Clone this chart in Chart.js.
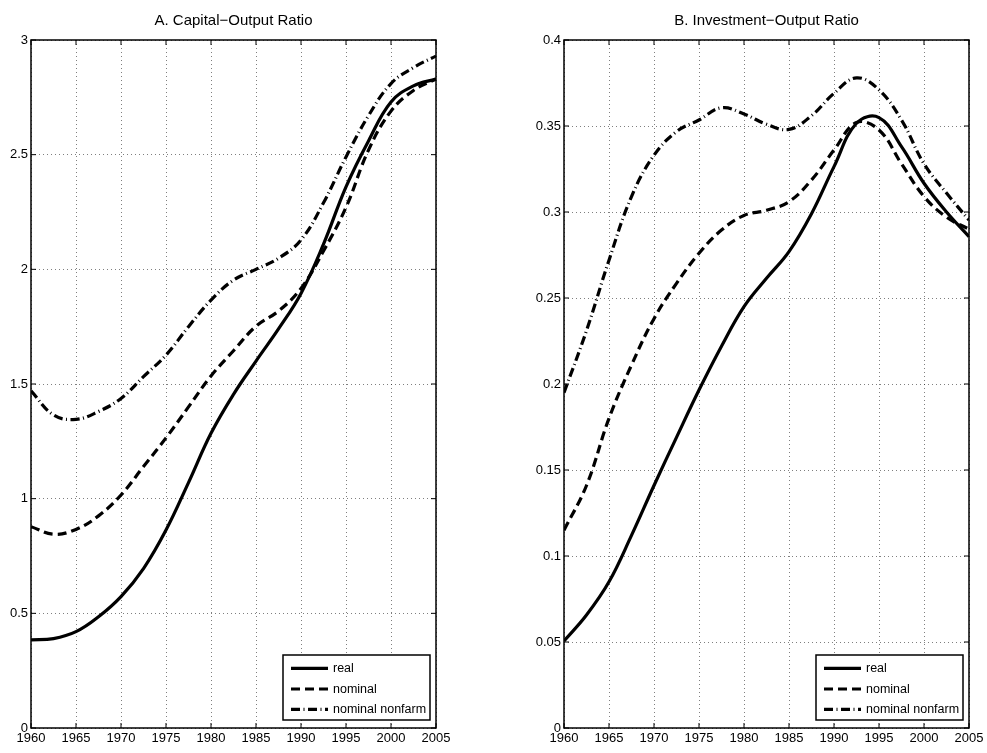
<!DOCTYPE html>
<html>
<head>
<meta charset="utf-8">
<script src="https://cdn.jsdelivr.net/npm/chart.js@4.4.4/dist/chart.umd.min.js"></script>
<style>
  html, body { margin: 0; padding: 0; background: #fff; }
  #wrap { position: relative; width: 987px; height: 753px; }
  canvas { position: absolute; top: 0; }
  #cA { left: 0; }
  #cB { left: 493px; }
</style>
</head>
<body>
<div id="wrap">
  <canvas id="cA" width="493" height="753"></canvas>
  <canvas id="cB" width="494" height="753"></canvas>
</div>
<script>
// ---- data ----
const years = [1960, 1962.5, 1965, 1967.5, 1970, 1972.5, 1975, 1977.5, 1980, 1982.5,
               1985, 1987.5, 1990, 1992.5, 1995, 1997.5, 2000, 2002.5, 2005];

// panel A: capital-output ratio
const capReal       = [0.384, 0.39, 0.42, 0.485, 0.573, 0.695, 0.863, 1.07, 1.285, 1.455,
                       1.60, 1.74, 1.895, 2.11, 2.36, 2.56, 2.73, 2.80, 2.83];
const capNominal    = [0.878, 0.845, 0.866, 0.925, 1.016, 1.14, 1.265, 1.40, 1.535, 1.645,
                       1.752, 1.818, 1.917, 2.08, 2.27, 2.52, 2.69, 2.78, 2.83];
const capNonfarm    = [1.47, 1.365, 1.346, 1.38, 1.437, 1.532, 1.626, 1.75, 1.866, 1.953,
                       2.0, 2.048, 2.128, 2.29, 2.49, 2.67, 2.81, 2.88, 2.93];

// panel B: investment-output ratio
const invReal       = [0.0506, 0.0657, 0.085, 0.112, 0.141, 0.169, 0.1965, 0.222, 0.245, 0.2615,
                       0.277, 0.299, 0.3264, 0.3516, 0.3549, 0.338, 0.3167, 0.300, 0.2857];
const invNominal    = [0.115, 0.141, 0.18, 0.211, 0.238, 0.2585, 0.276, 0.2895, 0.298, 0.301,
                       0.306, 0.3186, 0.336, 0.352, 0.3477, 0.328, 0.309, 0.297, 0.290];
const invNonfarm    = [0.195, 0.231, 0.272, 0.309, 0.333, 0.3467, 0.3535, 0.3606, 0.357, 0.351,
                       0.348, 0.356, 0.369, 0.378, 0.371, 0.3535, 0.328, 0.311, 0.2953];

const seriesNames = ['real', 'nominal', 'nominal nonfarm'];
const xTicks  = [1960, 1965, 1970, 1975, 1980, 1985, 1990, 1995, 2000, 2005];
const yTicksA = [0, 0.5, 1, 1.5, 2, 2.5, 3];
const yTicksB = [0, 0.05, 0.1, 0.15, 0.2, 0.25, 0.3, 0.35, 0.4];

const FONT = "'Liberation Sans', Arial, Helvetica, sans-serif";

// line styles, matlab-ish: solid, dashed, dash-dot
const styles = [
  { borderDash: [] },
  { borderDash: [9, 5] },
  { borderDash: [9, 3.5, 1, 3.5] }
];

function toPoints(vals) {
  return vals.map(function (v, i) { return { x: years[i], y: v }; });
}

function makeDatasets(list) {
  return list.map(function (vals, i) {
    return {
      label: seriesNames[i],
      data: toPoints(vals),
      borderColor: '#000',
      borderWidth: 3.2,
      borderDash: styles[i].borderDash,
      borderCapStyle: 'butt',
      pointRadius: 0,
      tension: 0.4,
      fill: false
    };
  });
}

// frame + inward tick marks, like a matlab box
const framePlugin = {
  id: 'frame',
  afterDraw(chart) {
    const ctx = chart.ctx, a = chart.chartArea;
    const xs = chart.scales.x, ys = chart.scales.y;
    ctx.save();
    ctx.strokeStyle = '#000';
    ctx.lineWidth = 1.5;
    ctx.setLineDash([]);
    ctx.strokeRect(a.left, a.top, a.right - a.left, a.bottom - a.top);
    ctx.lineWidth = 1;
    ctx.beginPath();
    xs.ticks.forEach(function (t) {
      const px = xs.getPixelForValue(t.value);
      ctx.moveTo(px, a.bottom); ctx.lineTo(px, a.bottom - 5);
      ctx.moveTo(px, a.top);    ctx.lineTo(px, a.top + 5);
    });
    ys.ticks.forEach(function (t) {
      const py = ys.getPixelForValue(t.value);
      ctx.moveTo(a.left, py);  ctx.lineTo(a.left + 5, py);
      ctx.moveTo(a.right, py); ctx.lineTo(a.right - 5, py);
    });
    ctx.stroke();
    ctx.restore();
  }
};

// legend box in the lower right corner of the plot area
const boxLegendPlugin = {
  id: 'boxLegend',
  afterDraw(chart) {
    const ctx = chart.ctx, a = chart.chartArea;
    const w = 147, h = 65;
    const left = a.right - 6 - w, top = a.bottom - 8 - h;
    const rows = [13.3, 34, 54.3];
    ctx.save();
    ctx.fillStyle = '#fff';
    ctx.fillRect(left, top, w, h);
    ctx.strokeStyle = '#000';
    ctx.lineWidth = 1.5;
    ctx.setLineDash([]);
    ctx.strokeRect(left, top, w, h);
    ctx.font = '12.5px ' + FONT;
    ctx.textBaseline = 'middle';
    ctx.textAlign = 'left';
    chart.data.datasets.forEach(function (ds, i) {
      const y = top + rows[i];
      ctx.beginPath();
      ctx.lineWidth = ds.borderWidth;
      ctx.lineCap = 'butt';
      ctx.setLineDash(ds.borderDash);
      ctx.moveTo(left + 8, y);
      ctx.lineTo(left + 45, y);
      ctx.stroke();
      ctx.setLineDash([]);
      ctx.fillStyle = '#000';
      ctx.fillText(ds.label, left + 50, y + 0.5);
    });
    ctx.restore();
  }
};

function makeChart(id, title, list, yTicks, yMax, yWidth, padRight) {
  return new Chart(document.getElementById(id), {
    type: 'line',
    data: { datasets: makeDatasets(list) },
    options: {
      responsive: false,
      animation: false,
      devicePixelRatio: 1,
      layout: { padding: { left: 0, right: padRight, top: 0, bottom: 0 } },
      plugins: {
        legend: { display: false },
        tooltip: { enabled: false },
        title: {
          display: true,
          text: title,
          fullSize: false,
          color: '#000',
          font: { family: FONT, size: 15, weight: 'normal' },
          padding: { top: 12, bottom: 10 }
        }
      },
      scales: {
        x: {
          type: 'linear',
          min: 1960,
          max: 2005,
          afterBuildTicks: function (s) { s.ticks = xTicks.map(function (v) { return { value: v }; }); },
          afterFit: function (s) { s.height = 25; },
          grid: { color: 'rgba(0,0,0,0.5)', lineWidth: 1, drawTicks: false },
          border: { display: false, dash: [1, 3] },
          ticks: {
            color: '#000',
            padding: 3,
            maxRotation: 0,
            autoSkip: false,
            font: { family: FONT, size: 13 },
            callback: function (v) { return String(v); }
          }
        },
        y: {
          min: 0,
          max: yMax,
          afterBuildTicks: function (s) { s.ticks = yTicks.map(function (v) { return { value: v }; }); },
          afterFit: function (s) { s.width = yWidth; },
          grid: { color: 'rgba(0,0,0,0.5)', lineWidth: 1, drawTicks: false },
          border: { display: false, dash: [1, 3] },
          ticks: {
            color: '#000',
            padding: 3,
            autoSkip: false,
            font: { family: FONT, size: 13 },
            callback: function (v) { return String(v); }
          }
        }
      }
    },
    plugins: [framePlugin, boxLegendPlugin]
  });
}

makeChart('cA', 'A. Capital\u2212Output Ratio', [capReal, capNominal, capNonfarm], yTicksA, 3, 31, 57);
makeChart('cB', 'B. Investment\u2212Output Ratio', [invReal, invNominal, invNonfarm], yTicksB, 0.4, 71, 18);
</script>
</body>
</html>
